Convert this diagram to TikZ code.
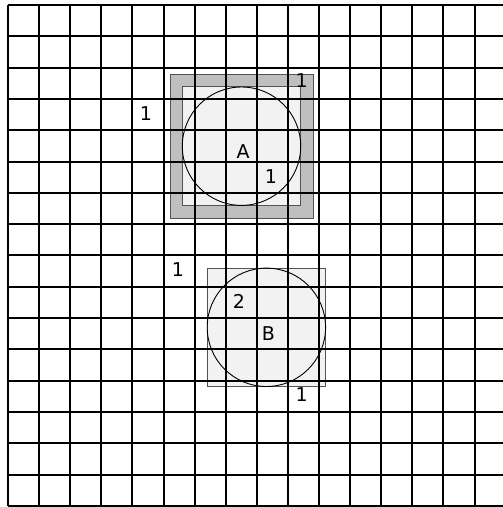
\documentclass[tikz,border=0pt]{standalone}
\usepackage{fontspec}
\setmainfont{DejaVu Sans}
\begin{document}
\begin{tikzpicture}[x=1pt,y=-1pt,
  lab/.style={font=\fontsize{19}{19}\selectfont, inner sep=0pt, text=black},
  gridline/.style={line width=2pt, black},
  band/.style={fill=gray!50},
  edge/.style={draw=gray!65!black, line width=0.7pt},
  lightfill/.style={fill=black!5},
  ring/.style={circle, draw=black, line width=0.9pt, inner sep=0pt, minimum size=118.4pt}]
\useasboundingbox (0,0) rectangle (503,507);
\begin{scope}
\clip (0,0) rectangle (503,507);
% square A with gray band
\fill[band] (170,74) rectangle (313.3,218);
\draw[edge] (170,74) rectangle (313.3,218);
\fill[lightfill] (182.3,86.7) rectangle (300.7,205.7);
\draw[edge] (182.3,86.7) rectangle (300.7,205.7);
\node[ring] (circA) at (241.5,146.2) {};
% square B
\fill[lightfill] (207.3,268.3) rectangle (325.7,386.7);
\draw[edge] (207.3,268.3) rectangle (325.7,386.7);
\node[ring] (circB) at (266.4,327.3) {};
% grid
\foreach \k in {0,...,16} {
  \draw[gridline] ({8+31.1*\k},5) -- ({8+31.1*\k},505.8);
  \draw[gridline] (8,{5+31.3*\k}) -- (505.6,{5+31.3*\k});
}
\end{scope}
% labels
\node[lab] (a1) at (301.7,81) {1};
\node[lab] (a2) at (146,113.5) {1};
\node[lab] (aA) at (243,151.5) {A};
\node[lab] (a3) at (271,176.5) {1};
\node[lab] (b1) at (178,270) {1};
\node[lab] (b2) at (239,301.5) {2};
\node[lab] (bB) at (268.3,333.3) {B};
\node[lab] (b3) at (301.7,395) {1};
\end{tikzpicture}
\end{document}
